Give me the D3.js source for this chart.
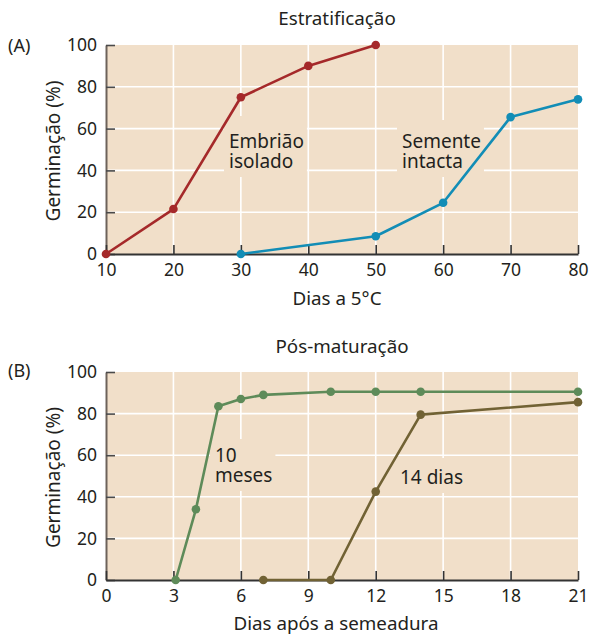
<!DOCTYPE html>
<html>
<head>
<meta charset="utf-8">
<script src="https://cdn.jsdelivr.net/npm/d3@7/dist/d3.min.js"></script>
<style>
html,body{margin:0;padding:0;background:#fff;}
svg{display:block;font-family:"Noto Sans","Open Sans",sans-serif;}
</style>
</head>
<body>
<svg id="chart" width="590" height="635"></svg>
<script>
// ---- Data ----
const yTicks = [0, 20, 40, 60, 80, 100];

// Panel A: Estratificação
const xTicksA = [10, 20, 30, 40, 50, 60, 70, 80];
const embriaoDays = [10, 20, 30, 40, 50];
const embriaoValues = [0, 21.5, 75, 90, 100];
const sementeDays = [30, 50, 60, 70, 80];
const sementeValues = [0, 8.5, 24.5, 65.5, 74];

// Panel B: Pós-maturação
const xTicksB = [0, 3, 6, 9, 12, 15, 18, 21];
const meses10Days = [3.1, 4, 5, 6, 7, 10, 12, 14, 21];
const meses10Values = [0, 34, 83.5, 87, 89, 90.5, 90.5, 90.5, 90.5];
const dias14Days = [7, 10, 12, 14, 21];
const dias14Values = [0, 0, 42.5, 79.5, 85.5];

// ---- Drawing ----
const BG = "#f1dfc9";
const TEXT = "#231f20";
const svg = d3.select("#chart");

function panel(cfg) {
  const x = d3.scaleLinear().domain([cfg.xTicks[0], cfg.xTicks[cfg.xTicks.length - 1]]).range([106, 578]);
  const y = d3.scaleLinear().domain([0, 100]).range([cfg.bottom, cfg.top]);
  const g = svg.append("g");

  g.append("rect").attr("x", x.range()[0]).attr("y", y(100))
    .attr("width", x.range()[1] - x.range()[0]).attr("height", y(0) - y(100))
    .attr("fill", BG);

  // gridlines
  g.selectAll(".vg").data(cfg.xTicks.slice(1, -1)).join("line")
    .attr("x1", d => x(d)).attr("x2", d => x(d)).attr("y1", y(100)).attr("y2", y(0))
    .attr("stroke", "#fff").attr("stroke-width", 1.6);
  g.selectAll(".hg").data(yTicks.slice(1, -1)).join("line")
    .attr("x1", x.range()[0]).attr("x2", x.range()[1]).attr("y1", d => y(d)).attr("y2", d => y(d))
    .attr("stroke", "#fff").attr("stroke-width", 1.6);

  // label boxes + labels
  const labelG = g.append("g");
  cfg.labels.forEach(l => {
    const lg = labelG.append("g");
    const box = lg.append("rect").attr("fill", BG);
    const texts = l.lines.map((s, i) => lg.append("text").attr("x", l.x).attr("y", l.y + i * 20)
      .attr("font-size", 19).attr("fill", TEXT).text(s));
    let x0 = Infinity, y0 = Infinity, x1 = -Infinity, y1 = -Infinity;
    texts.forEach(t => {
      const bb = t.node().getBBox();
      x0 = Math.min(x0, bb.x); y0 = Math.min(y0, bb.y);
      x1 = Math.max(x1, bb.x + bb.width); y1 = Math.max(y1, bb.y + bb.height);
    });
    box.attr("x", x0 - 5).attr("y", y0 - l.padTop)
      .attr("width", x1 - x0 + 8).attr("height", y1 - y0 + l.padTop + 3);
  });

  // axes
  const yAxis = d3.axisLeft(y).tickValues(yTicks).tickSizeInner(-9).tickSizeOuter(0).tickPadding(9);
  const ya = g.append("g").attr("transform", `translate(${x.range()[0]},0)`).call(yAxis);
  ya.select(".domain").attr("stroke", "#6d625a").attr("stroke-width", 2);
  ya.selectAll(".tick line").attr("stroke", "#4a4a4a").attr("stroke-width", 1.6);
  ya.selectAll(".tick text").attr("font-size", 17.5).attr("fill", TEXT).attr("font-family", "Noto Sans");

  const xAxis = d3.axisBottom(x).tickValues(cfg.xTicks).tickSizeInner(-9).tickSizeOuter(0).tickPadding(10);
  const xa = g.append("g").attr("transform", `translate(0,${y(0)})`).call(xAxis);
  xa.select(".domain").attr("stroke", "#333").attr("stroke-width", 1.8);
  xa.selectAll(".tick line").attr("stroke", "#333").attr("stroke-width", 1.6);
  xa.selectAll(".tick text").attr("font-size", 17.5).attr("fill", TEXT).attr("font-family", "Noto Sans");

  // series
  const line = d3.line().x(d => x(d[0])).y(d => y(d[1]));
  cfg.series.forEach(s => {
    const pts = d3.zip(s.days, s.values);
    g.append("path").datum(pts).attr("d", line).attr("fill", "none")
      .attr("stroke", s.color).attr("stroke-width", 2.6).attr("stroke-linejoin", "round");
    g.selectAll(null).data(pts).join("circle")
      .attr("cx", d => x(d[0])).attr("cy", d => y(d[1])).attr("r", 4.3).attr("fill", s.color);
  });

  // titles
  g.append("text").attr("x", cfg.titleX).attr("y", cfg.titleY).attr("text-anchor", "middle")
    .attr("font-size", 18.8).attr("fill", TEXT).text(cfg.title);
  g.append("text").attr("x", 8).attr("y", cfg.tagY)
    .attr("font-size", 18).attr("fill", TEXT).text(cfg.tag);
  g.append("text").attr("x", cfg.xLabelX).attr("y", cfg.xLabelY).attr("text-anchor", "middle")
    .attr("font-size", 18.8).attr("fill", TEXT).text(cfg.xLabel);
  g.append("text").attr("transform", `translate(60,${(y(0) + y(100)) / 2 + 1.5}) rotate(-90)`)
    .attr("text-anchor", "middle").attr("font-size", 19).attr("fill", TEXT).text("Germinação (%)");
}

panel({
  top: 45, bottom: 254, xTicks: xTicksA,
  title: "Estratificação", titleX: 337, titleY: 25, tag: "(A)", tagY: 52,
  xLabel: "Dias a 5°C", xLabelX: 337, xLabelY: 305,
  series: [
    {days: embriaoDays, values: embriaoValues, color: "#a5292a"},
    {days: sementeDays, values: sementeValues, color: "#128db6"}
  ],
  labels: [
    {x: 229, y: 148, lines: ["Embrião", "isolado"], padTop: 12},
    {x: 402, y: 148, lines: ["Semente", "intacta"], padTop: 8}
  ]
});

panel({
  top: 372, bottom: 580, xTicks: xTicksB,
  title: "Pós-maturação", titleX: 342, titleY: 353, tag: "(B)", tagY: 377,
  xLabel: "Dias após a semeadura", xLabelX: 336, xLabelY: 630,
  series: [
    {days: meses10Days, values: meses10Values, color: "#5e8b59"},
    {days: dias14Days, values: dias14Values, color: "#716234"}
  ],
  labels: [
    {x: 215, y: 462, lines: ["10", "meses"], padTop: 3},
    {x: 400, y: 484, lines: ["14 dias"], padTop: 6}
  ]
});
</script>
</body>
</html>
